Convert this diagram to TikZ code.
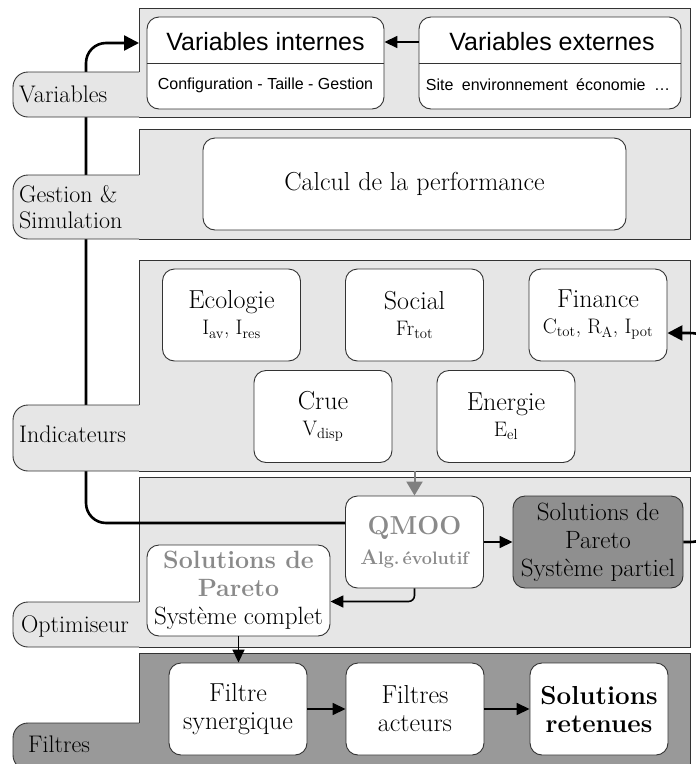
\documentclass[tikz,border=0pt]{standalone}
\usepackage{fontspec}
\newfontfamily\arialfont{Liberation Sans}
\usetikzlibrary{arrows.meta,calc}
\definecolor{bandlight}{HTML}{E6E6E6}
\definecolor{banddark}{HTML}{999999}
\definecolor{boxdark}{HTML}{8F8F8F}
\definecolor{txtgray}{HTML}{8A8A8A}
\definecolor{edge}{HTML}{333333}
\newcommand\fsz[2]{\fontsize{#1}{#2}\selectfont}
\tikzset{
  band/.style={fill=#1, draw=none, inner sep=0pt, outer sep=0pt},
  bandedge/.style={draw=edge, line width=0.9pt},
  tabshape/.style={fill=#1, draw=edge, line width=0.9pt, rounded corners=15pt},
  tablabel/.style={anchor=base west, inner sep=0pt, font=\fsz{24}{26}},
  ibox/.style={draw=edge, line width=0.9pt, fill=white, rounded corners=12pt,
    minimum width=138pt, minimum height=92pt, inner sep=0pt, align=center,
    font=\fsz{26}{28}},
  vbox/.style={draw=edge, line width=0.9pt, fill=white, rounded corners=12pt,
    minimum height=92pt, inner sep=0pt},
  vtitle/.style={inner sep=0pt, font=\arialfont\fsz{25}{28}},
  vsub/.style={inner sep=0pt, font=\arialfont\fsz{16}{18}},
  arr/.style={line width=1.6pt, -{Triangle[length=13pt,width=12pt]}},
  thickarr/.style={line width=2.6pt, -{Triangle[length=15pt,width=15pt]}},
  grayarr/.style={draw=gray, line width=2pt, -{Triangle[length=14pt,width=16pt]}},
}
\begin{document}
\begin{tikzpicture}[x=1pt,y=-1pt]
\useasboundingbox (0,0) rectangle (696,764);
% bands
\node[band=bandlight, minimum width=551pt, minimum height=109pt] (bvar) at (414.5,62.5) {};
\node[band=bandlight, minimum width=551pt, minimum height=110pt] (bges) at (414.5,184) {};
\node[band=bandlight, minimum width=551pt, minimum height=211pt] (bind) at (414.5,365.5) {};
\node[band=bandlight, minimum width=551pt, minimum height=170pt] (bopt) at (414.5,562) {};
\node[band=banddark, minimum width=551pt, minimum height=117pt] (bfil) at (414.5,711.5) {};
% tab corners
\coordinate (tvar) at (13,72);
\coordinate (tges) at (13,175);
\coordinate (tind) at (13,405);
\coordinate (topt) at (13,602);
\coordinate (tfil) at (13,723);
% band outlines
\foreach \b/\t in {bvar/tvar,bges/tges,bind/tind,bopt/topt,bfil/tfil}{
  \draw[bandedge] (\b.west |- \t) -- (\b.north west) -- (\b.north east) -- (\b.south east) -- (\b.south west);
}
% variables boxes
\node[vbox, minimum width=237pt] (vi) at (265.5,63) {};
\node[vtitle] (vit) at (265.5,42) {Variables internes};
\draw[edge, line width=0.9pt] (vi.west) -- (vi.east);
\node[vsub] (vis) at (265.5,85) {Configuration - Taille - Gestion};
\node[vbox, minimum width=262pt] (ve) at (550,63) {};
\node[vtitle] (vet) at (552,42) {Variables externes};
\draw[edge, line width=0.9pt] (ve.west) -- (ve.east);
\node[vsub] (ves) at (548,85) {Site\hspace{4pt} environnement\hspace{4pt} économie\hspace{4pt} \dots};
% calcul
\node[ibox, minimum width=423pt] (calc) at (414.5,184) {Calcul de la performance};
% indicateurs
\node[ibox] (eco) at (231.5,315) {Ecologie\\[-2pt]{\fsz{21}{23}I\textsubscript{av}, I\textsubscript{res}}};
\node[ibox] (soc) at (414.5,315) {Social\\[-2pt]{\fsz{21}{23}Fr\textsubscript{tot}}};
\node[ibox] (fin) at (598,315) {Finance\\[-2pt]{\fsz{21}{23}C\textsubscript{tot}, R\textsubscript{A}, I\textsubscript{pot}}};
\node[ibox] (cru) at (323,416.5) {Crue\\[-2pt]{\fsz{21}{23}V\textsubscript{disp}}};
\node[ibox] (ene) at (506,416.5) {Energie\\[-2pt]{\fsz{21}{23}E\textsubscript{el}}};
% optimiseur
\node[ibox, text=txtgray, font=\bfseries\fsz{26}{30}] (qmoo) at (414.5,542) {QMOO\\{\fsz{21}{24}A\fsz{18}{24}lg.\,évolutif}};
\node[ibox, minimum width=170pt, fill=boxdark, font=\fsz{25}{28}] (pp) at (598,542) {Solutions de\\Pareto\\Système partiel};
\node[ibox, minimum width=183pt, minimum height=91pt, font=\fsz{25}{28}] (comp) at (238.5,590.5) {{\color{txtgray}\bfseries Solutions de}\\{\color{txtgray}\bfseries Pareto}\\Système complet};
% filtres
\node[ibox] (syn) at (238,709) {Filtre\\synergique};
\node[ibox] (act) at (415,709) {Filtres\\acteurs};
\node[ibox, font=\bfseries\fsz{26}{28}] (ret) at (599,709) {Solutions\\retenues};
% connectors
\coordinate (trunk) at (86,43);
\coordinate (loop) at (720,333);
\draw[thickarr, rounded corners=20pt] ([yshift=19pt]qmoo.west) -| (trunk) -- (bvar.west |- trunk);
\draw[arr] (ve.west |- vit) -- (vi.east |- vit);
\draw[grayarr] (qmoo.north |- bind.south) -- (qmoo.north);
\draw[arr] (qmoo.east) -- (pp.west);
\draw[thickarr, rounded corners=30pt] (pp.east) -| (loop) -- ([yshift=-18pt]fin.east);
\draw[arr, rounded corners=6pt] (qmoo.south) |- ([yshift=-11pt]comp.east);
\draw[arr] (comp.south) -- (comp.south |- syn.north);
\draw[arr] (syn.east) -- (act.west);
\draw[arr] (act.east) -- (ret.west);
% tabs
\foreach \b/\t/\c in {bvar/tvar/bandlight,bges/tges/bandlight,bind/tind/bandlight,bopt/topt/bandlight,bfil/tfil/banddark}{
  \path[tabshape=\c] (\b.west |- \t) -- (\t) -- (\t |- \b.south) -- (\b.south west);
}
\node[tablabel] (lvar) at (19,102) {Variables};
\node[tablabel] (lges) at (19,202) {Gestion \&};
\node[tablabel] (lsim) at (19,228) {Simulation};
\node[tablabel] (lind) at (19,442) {Indicateurs};
\node[tablabel] (lopt) at (21,632) {Optimiseur};
\node[tablabel] (lfil) at (28,752) {Filtres};
\end{tikzpicture}
\end{document}
